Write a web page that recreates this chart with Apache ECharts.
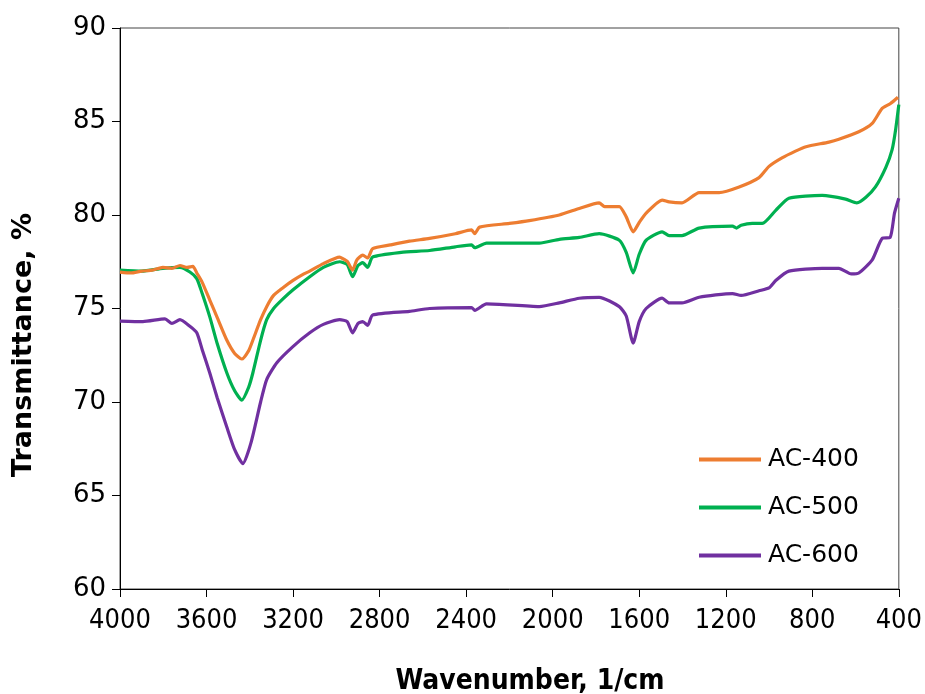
<!DOCTYPE html>
<html>
<head>
<meta charset="utf-8">
<script src="https://cdn.jsdelivr.net/npm/echarts@6/dist/echarts.min.js"></script>
<style>html,body{margin:0;padding:0;background:#fff}#c{width:925px;height:694px}</style>
</head>
<body>
<div id="c"></div>
<script>
const seriesNames = ['AC-400', 'AC-500', 'AC-600'];
const xTicks = [4000, 3600, 3200, 2800, 2400, 2000, 1600, 1200, 800, 400];
const xTitle = 'Wavenumber, 1/cm';
const yTitle = 'Transmittance, %';

const wn400 = [4000,3950,3900,3850,3802,3760,3723,3690,3663,3645,3620,3585,3550,3506,3470,3437,3405,3386,3350,3322,3290,3248,3200,3150,3123,3060,2985,2960,2948,2925,2905,2878,2855,2832,2750,2662,2569,2450,2375,2360,2338,2200,2108,1969,1877,1785,1760,1692,1660,1628,1600,1568,1494,1462,1402,1323,1231,1138,1046,1000,940,880,829,723,677,585,523,477,440,404];
const t400 = [76.95,76.9,77.0,77.05,77.2,77.15,77.3,77.2,77.25,76.9,76.4,75.45,74.5,73.3,72.6,72.3,72.75,73.3,74.4,75.1,75.7,76.1,76.5,76.85,77.0,77.4,77.75,77.6,77.5,77.05,77.6,77.85,77.7,78.2,78.4,78.6,78.75,79.0,79.2,79.0,79.35,79.55,79.7,80.0,80.35,80.65,80.45,80.45,79.9,79.1,79.6,80.1,80.8,80.7,80.65,81.2,81.2,81.5,82.0,82.6,83.05,83.4,83.65,83.9,84.05,84.45,84.9,85.7,85.95,86.3];

const wn500 = [4000,3900,3802,3723,3677,3645,3620,3585,3550,3506,3470,3437,3405,3386,3350,3322,3290,3248,3200,3123,3060,2985,2950,2925,2900,2878,2855,2832,2700,2569,2450,2375,2360,2306,2062,1969,1877,1785,1692,1660,1628,1600,1568,1494,1462,1402,1323,1169,1150,1129,1077,1031,969,908,754,646,594,552,508,460,431,415,400];
const t500 = [77.05,77.0,77.15,77.2,76.95,76.6,75.8,74.55,73.1,71.55,70.6,70.1,70.8,71.55,73.3,74.4,75.0,75.5,76.0,76.7,77.2,77.5,77.35,76.7,77.3,77.45,77.2,77.75,78.0,78.1,78.3,78.4,78.25,78.5,78.5,78.7,78.8,79.0,78.65,78.0,76.9,77.9,78.65,79.1,78.9,78.9,79.3,79.4,79.3,79.45,79.55,79.55,80.25,80.9,81.05,80.85,80.65,80.95,81.5,82.55,83.5,84.55,85.9];

const wn600 = [4000,3894,3792,3760,3723,3677,3645,3620,3585,3550,3506,3470,3432,3395,3350,3322,3275,3202,3123,3060,2985,2950,2925,2900,2878,2855,2832,2662,2569,2375,2360,2306,2062,1969,1877,1785,1692,1660,1628,1600,1568,1494,1462,1402,1323,1169,1129,1046,1000,969,908,754,677,620,585,523,477,440,420,400];
const t600 = [74.33,74.3,74.45,74.2,74.4,74.05,73.7,72.8,71.55,70.2,68.65,67.45,66.7,67.8,70.0,71.2,72.1,72.95,73.7,74.15,74.4,74.3,73.7,74.2,74.3,74.1,74.65,74.85,75.0,75.05,74.9,75.25,75.1,75.3,75.55,75.6,75.1,74.6,73.15,74.3,75.0,75.55,75.3,75.3,75.6,75.8,75.7,75.95,76.1,76.5,77.0,77.15,77.15,76.85,76.9,77.6,78.75,78.8,80.1,80.9];

const colors = ['#ED7D31', '#00B050', '#7030A0'];
const pairs = (xs, ys) => xs.map((x, i) => [x, ys[i]]);
const allData = [pairs(wn400, t400), pairs(wn500, t500), pairs(wn600, t600)];

const chart = echarts.init(document.getElementById('c'), null, {renderer: 'canvas'});
chart.setOption({
  animation: false,
  backgroundColor: '#ffffff',
  grid: {left: 120, right: 25, top: 28, bottom: 105, show: true, borderColor: '#444', borderWidth: 1, containLabel: false},
  legend: {
    orient: 'vertical', left: 694, top: 442,
    itemWidth: 62, itemHeight: 4, itemGap: 23,
    textStyle: {fontFamily: 'DejaVu Sans', fontSize: 25, color: '#000', padding: [0, 0, 0, 2]},
    data: seriesNames.map(n => ({name: n, icon: 'rect'}))
  },
  graphic: [
    {type: 'text', x: 530, y: 682, style: {text: xTitle, font: 'bold 28px "DejaVu Sans Condensed", "DejaVu Sans"', fill: '#000', align: 'center', verticalAlign: 'middle'}},
    {type: 'text', x: 24, y: 345, rotation: Math.PI / 2, style: {text: yTitle, font: 'bold 27px "DejaVu Sans"', fill: '#000', align: 'center', verticalAlign: 'middle'}}
  ],
  xAxis: {
    type: 'value', min: 400, max: 4000, interval: 400, inverse: true,
    axisLine: {lineStyle: {color: '#000', width: 1}},
    axisTick: {show: true, length: 8, lineStyle: {color: '#000'}},
    axisLabel: {margin: 18, fontFamily: 'DejaVu Sans Condensed, DejaVu Sans', fontSize: 27, color: '#000',
      formatter: v => xTicks.includes(v) ? String(v) : ''},
    splitLine: {show: false}
  },
  yAxis: {
    type: 'value', min: 60, max: 90, interval: 5,
    axisLine: {show: true, lineStyle: {color: '#000', width: 1}},
    axisTick: {show: true, length: 8, lineStyle: {color: '#000'}},
    axisLabel: {margin: 14, fontFamily: 'DejaVu Sans', fontSize: 26, color: '#000'},
    splitLine: {show: false}
  },
  series: seriesNames.map((n, i) => ({
    name: n, type: 'line', data: allData[i], showSymbol: false, symbol: 'none',
    smooth: 0.2, lineStyle: {color: colors[i], width: 3.2}, itemStyle: {color: colors[i]}, z: 3 - i
  }))
});
</script>
</body>
</html>
